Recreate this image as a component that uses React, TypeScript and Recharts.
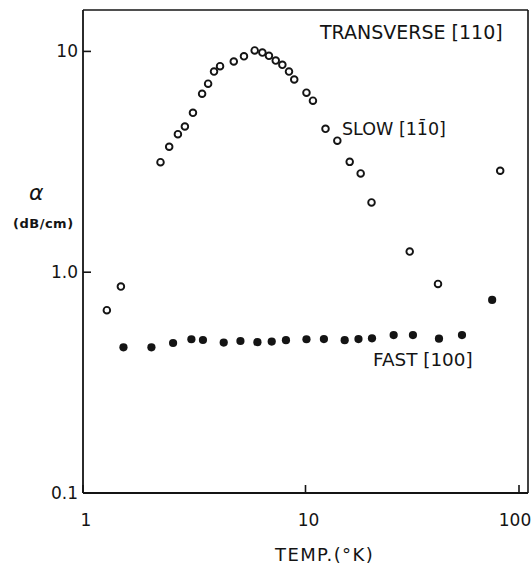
import { ScatterChart, Scatter, XAxis, YAxis, ReferenceLine } from 'recharts';

// slow [1-10] transverse wave, open circles
const slowTemp = [1.28, 1.48, 2.23, 2.44, 2.67, 2.87, 3.12, 3.43, 3.65, 3.88, 4.13, 4.76, 5.29, 5.91, 6.4, 6.85, 7.35, 7.87, 8.43, 8.9, 10.1, 10.8, 12.3, 13.9, 15.8, 17.7, 19.8, 29.4, 39.4, 75.0];
const slowAlpha = [0.673, 0.861, 3.15, 3.7, 4.22, 4.57, 5.27, 6.43, 7.14, 8.1, 8.57, 9.0, 9.5, 10.1, 9.88, 9.55, 9.09, 8.69, 8.1, 7.46, 6.5, 5.98, 4.46, 3.94, 3.16, 2.8, 2.07, 1.24, 0.885, 2.88];

// fast [100], filled circles
const fastTemp = [1.52, 2.03, 2.54, 3.07, 3.46, 4.29, 5.1, 6.08, 7.05, 8.17, 10.1, 12.1, 15.0, 17.3, 19.9, 24.9, 30.4, 39.8, 50.5, 69.0];
const fastAlpha = [0.457, 0.457, 0.478, 0.497, 0.493, 0.48, 0.488, 0.482, 0.485, 0.492, 0.497, 0.498, 0.492, 0.498, 0.502, 0.519, 0.519, 0.5, 0.519, 0.749];

const xTicks = [1, 10, 100];
const xTickLabels = ['1', '10', '100'];
const yTicks = [0.1, 1, 10];
const yTickLabels = ['0.1', '1.0', '10'];

const slowData = slowTemp.map((t, i) => ({ t, a: slowAlpha[i] }));
const fastData = fastTemp.map((t, i) => ({ t, a: fastAlpha[i] }));

const ink = '#141414';
const font = '"DejaVu Sans", "Liberation Sans", sans-serif';

const OpenDot = (p: any) => <circle cx={p.cx} cy={p.cy} r={3.3} fill="#fff" stroke={ink} strokeWidth={1.9} />;
const FilledDot = (p: any) => <circle cx={p.cx} cy={p.cy} r={4.1} fill={ink} />;

const XTick = (p: any) => {
  const v = p.payload.value;
  // the last label is lettered just inside the frame, as in the original
  const dx = v === 100 ? -4 : 3;
  return (
    <g>
      <line x1={p.x} x2={p.x} y1={p.y} y2={p.y - 8} stroke={ink} strokeWidth={1.6} />
      <text x={p.x + dx} y={p.y + 33} textAnchor="middle" fontSize={17} fontFamily={font} fill={ink}>
        {xTickLabels[xTicks.indexOf(v)]}
      </text>
    </g>
  );
};

const YTick = (p: any) => {
  const v = p.payload.value;
  return (
    <g>
      <line x1={p.x} x2={p.x + 8} y1={p.y} y2={p.y} stroke={ink} strokeWidth={1.6} />
      <text x={p.x - 5} y={p.y + 6} textAnchor="end" fontSize={17} fontFamily={font} fill={ink}>
        {yTickLabels[yTicks.indexOf(v)]}
      </text>
    </g>
  );
};

const note = (left: number, top: number, size: number, extra: any = {}) => ({
  position: 'absolute' as const,
  left,
  top,
  fontSize: size,
  lineHeight: 1,
  fontFamily: font,
  color: ink,
  whiteSpace: 'nowrap' as const,
  transform: 'translateY(-50%)',
  ...extra,
});

export default function App() {
  return (
    <div style={{ position: 'relative', width: 531, height: 566, background: '#fff', overflow: 'hidden' }}>
      <style>{'html,body{margin:0;padding:0;overflow:hidden}'}</style>
      <ScatterChart width={531} height={566} margin={{ top: 10, right: 3, bottom: 0, left: 0 }}>
        <XAxis
          dataKey="t"
          type="number"
          scale="log"
          domain={[1, 100]}
          ticks={xTicks}
          height={73}
          tickSize={0}
          tickMargin={0}
          tickLine={false}
          tick={<XTick />}
          axisLine={{ stroke: ink, strokeWidth: 1.8 }}
          allowDataOverflow
        />
        <YAxis
          dataKey="a"
          type="number"
          scale="log"
          domain={[0.1, 15.4]}
          ticks={yTicks}
          width={83}
          tickSize={0}
          tickMargin={0}
          tickLine={false}
          tick={<YTick />}
          axisLine={{ stroke: ink, strokeWidth: 1.8 }}
          allowDataOverflow
        />
        <ReferenceLine y={15.4} stroke={ink} strokeWidth={1.6} />
        <ReferenceLine x={100} stroke={ink} strokeWidth={1.6} />
        <Scatter data={slowData} shape={<OpenDot />} isAnimationActive={false} />
        <Scatter data={fastData} shape={<FilledDot />} isAnimationActive={false} />
      </ScatterChart>
      <div style={note(320, 32, 19)}>TRANSVERSE [110]</div>
      <div style={note(342, 130, 17.5)}>SLOW [11&#772;0]</div>
      <div style={note(373, 360, 18.4)}>FAST [100]</div>
      <div style={note(29, 193, 22, { fontStyle: 'italic' })}>α</div>
      <div style={note(13, 223, 13, { fontWeight: 'bold', letterSpacing: 0.5 })}>(dB/cm)</div>
      <div style={note(275, 555, 18, { letterSpacing: 1.4 })}>TEMP.(°K)</div>
    </div>
  );
}
